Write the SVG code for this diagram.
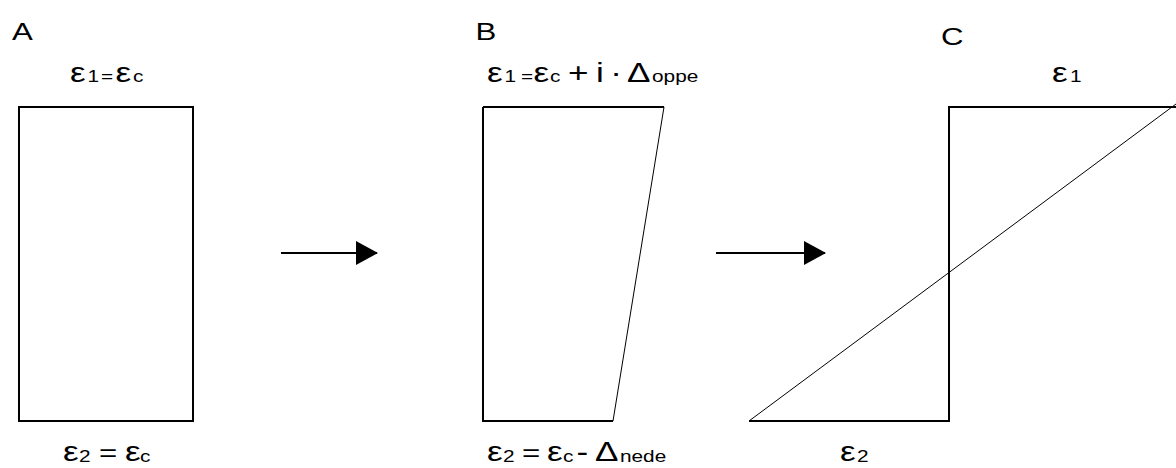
<svg xmlns="http://www.w3.org/2000/svg" width="1176" height="468" viewBox="0 0 1176 468">
<style>
text{font-family:"Liberation Sans",Arial,sans-serif;fill:#000}
.big{font-size:27px}
.sub{font-size:16px}
.eq{font-size:24px}
.lbl{font-size:24px}
.shape{fill:none;stroke:#000;stroke-width:2}
.thin{fill:none;stroke:#000;stroke-width:1}
</style>
<defs>
<marker id="ah" markerWidth="22" markerHeight="24" refX="21" refY="12" orient="auto" markerUnits="userSpaceOnUse">
<path d="M0,0 L22,12 L0,24 Z" fill="#000"/>
</marker>
</defs>
<g id="panelA">
<text class="lbl" transform="scale(1.3 1)" x="9.2" y="40">A</text>
<text transform="scale(1.3 1)" y="82"><tspan class="big" x="53.85">ε</tspan><tspan class="sub" x="67.3">1</tspan><tspan class="sub" x="77.7">=</tspan><tspan class="big" x="88.9">ε</tspan><tspan class="sub" x="102.31">c</tspan></text>
<rect class="shape" x="19" y="107" width="174" height="314"/>
<text transform="scale(1.3 1)" y="461"><tspan class="big" x="48.46">ε</tspan><tspan class="sub" x="60.77" dy="1">2</tspan><tspan class="eq" x="76.2" dy="-1">=</tspan><tspan class="big" x="96.15">ε</tspan><tspan class="sub" x="107.69" dy="1">c</tspan></text>
</g>
<g id="panelB">
<text class="lbl" transform="scale(1.3 1)" x="365.8" y="40">B</text>
<text transform="scale(1.3 1)" y="82"><tspan class="big" x="374.62">ε</tspan><tspan class="sub" x="388.1">1</tspan><tspan class="sub" x="400.8">=</tspan><tspan class="big" x="410.4">ε</tspan><tspan class="sub" x="423.08">c</tspan><tspan class="big" x="436.92">+</tspan><tspan class="big" x="458.5">i</tspan><tspan class="big" x="469.5">·</tspan><tspan class="big" x="482.31">Δ</tspan><tspan class="sub" x="501.54">oppe</tspan></text>
<path class="shape" d="M483,107 L664,107"/>
<path class="shape" d="M483,107 L483,421 L613,421"/>
<path class="thin" d="M664,107 L613,421"/>
<text transform="scale(1.3 1)" y="461"><tspan class="big" x="374.62">ε</tspan><tspan class="sub" x="386.92" dy="1">2</tspan><tspan class="eq" x="401.5" dy="-1">=</tspan><tspan class="big" x="420.77">ε</tspan><tspan class="sub" x="433.08" dy="1">c</tspan><tspan class="big" x="443.5" dy="-1">-</tspan><tspan class="big" x="457.69">Δ</tspan><tspan class="sub" x="476.92" dy="1">nede</tspan></text>
</g>
<g id="panelC">
<text class="lbl" transform="scale(1.3 1)" x="723.85" y="45">C</text>
<text transform="scale(1.3 1)" y="82"><tspan class="big" x="809.23">ε</tspan><tspan class="sub" x="823.08">1</tspan></text>
<path class="shape" d="M1176,107 L949,107 L949,421 L749,421"/>
<path class="thin" d="M749,421 L1176,104"/>
<text transform="scale(1.3 1)" y="461"><tspan class="big" x="646.15">ε</tspan><tspan class="sub" x="659.23" dy="1">2</tspan></text>
</g>
<g id="connectors">
<path d="M281,253 L377,253" stroke="#000" stroke-width="2" marker-end="url(#ah)"/>
<path d="M716,253 L825,253" stroke="#000" stroke-width="2" marker-end="url(#ah)"/>
</g>
</svg>
